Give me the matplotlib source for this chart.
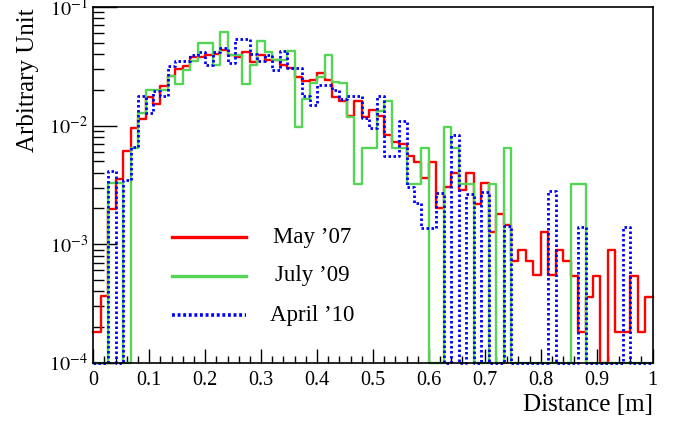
import numpy as np
import matplotlib
matplotlib.use("Agg")
import matplotlib.pyplot as plt
from matplotlib.ticker import MultipleLocator, LogLocator, NullFormatter

plt.rcParams['font.family'] = ['Liberation Serif', 'DejaVu Serif']
plt.rcParams['mathtext.fontset'] = 'stix'

# 75 bins between 0 and 1 m
edges = np.linspace(0.0, 1.0, 76)

may07 = [1.8e-4, 3.66e-4, 1.99e-3, 3.57e-3, 6.05e-3, 9.55e-3, 1.14e-2, 1.75e-2, 1.53e-2, 2.17e-2,
         2.64e-2, 3.0e-2, 3.17e-2, 3.8e-2, 3.8e-2, 3.9e-2, 4.0e-2, 4.3e-2, 3.97e-2, 3.8e-2,
         4.18e-2, 3.47e-2, 3.97e-2, 3.6e-2, 3.55e-2, 3.25e-2, 3.06e-2, 2.57e-2, 2.36e-2, 2.44e-2,
         2.78e-2, 2.4e-2, 1.75e-2, 1.6e-2, 1.21e-2, 1.6e-2, 1.18e-2, 1.36e-2, 1.2e-2, 8.4e-3,
         7.2e-3, 7.0e-3, 5.5e-3, 4.9e-3, 3.6e-3, 4.9e-3, 2.0e-3, 3.06e-3, 3.98e-3, 2.88e-3,
         3.98e-3, 2.18e-3, 3.27e-3, 1.26e-3, 1.8e-3, 1.44e-3, 7.2e-4, 8.95e-4, 7.2e-4, 5.5e-4,
         1.26e-3, 5.5e-4, 8.95e-4, 7.2e-4, 5.43e-4, 1.81e-4, 3.57e-4, 5.43e-4, 0, 8.95e-4,
         1.81e-4, 1.81e-4, 5.43e-4, 1.81e-4, 3.57e-4]

july09 = [0, 0, 3.27e-3, 3.27e-3, 0, 6.5e-3, 1.28e-2, 1.98e-2, 1.98e-2, 1.98e-2,
          2.64e-2, 2.26e-2, 2.96e-2, 3.53e-2, 5.0e-2, 5.0e-2, 3.25e-2, 6.2e-2, 3.9e-2, 3.9e-2,
          2.26e-2, 3.25e-2, 5.14e-2, 4.18e-2, 3.55e-2, 3.55e-2, 4.24e-2, 9.7e-3, 1.66e-2, 2.29e-2,
          2.57e-2, 3.9e-2, 2.32e-2, 2.29e-2, 1.18e-2, 3.23e-3, 6.47e-3, 6.47e-3, 1.32e-2, 1.62e-2,
          6.47e-3, 6.47e-3, 3.23e-3, 3.23e-3, 6.5e-3, 0, 0, 9.7e-3, 6.47e-3, 3.23e-3,
          3.23e-3, 0, 0, 3.23e-3, 0, 6.47e-3, 0, 0, 0, 0,
          0, 0, 0, 0, 3.23e-3, 3.23e-3, 0, 0, 0, 0,
          0, 0, 0, 0, 0]

april10 = [0, 0, 4.1e-3, 0, 3.5e-3, 6.6e-3, 1.77e-2, 1.28e-2, 1.95e-2, 1.77e-2,
           3.17e-2, 3.48e-2, 3.53e-2, 3.97e-2, 4.15e-2, 3.27e-2, 4.15e-2, 4.5e-2, 3.38e-2, 5.38e-2,
           5.38e-2, 4.0e-2, 3.5e-2, 3.97e-2, 2.92e-2, 4.28e-2, 3.06e-2, 3.06e-2, 1.77e-2, 1.5e-2,
           2.22e-2, 2.22e-2, 2.01e-2, 1.66e-2, 1.77e-2, 1.77e-2, 1.16e-2, 9.55e-3, 1.77e-2, 5.5e-3,
           5.5e-3, 1.09e-2, 3.06e-3, 2.23e-3, 1.36e-3, 1.36e-3, 2.7e-3, 0, 8.4e-3, 0,
           2.65e-3, 0, 2.75e-3, 0, 0, 1.42e-3, 0, 0, 0, 0,
           0, 2.78e-3, 0, 0, 0, 1.39e-3, 0, 0, 0, 0,
           0, 1.39e-3, 0, 0, 0]

labels = ["May \u201907", "July \u201909", "April \u201910"]
colors = ["#ff0000", "#55d455", "#0000ff"]

ymin, ymax = 1e-4, 1e-1

fig = plt.figure(figsize=(6.83, 4.22), dpi=100)
ax = fig.add_axes([0.1366, 0.1405, 0.819, 0.8429])

styles = [dict(lw=1.7), dict(lw=1.7), dict(lw=2.0, ls=(0, (0.9, 0.9)), dash_capstyle='butt')]
for vals, col, st in zip([may07, july09, april10], colors, styles):
    # empty bins sit on the lower edge of the frame, as ROOT draws them
    v = np.clip(np.array(vals, dtype=float), ymin, None)
    ax.step(edges, np.append(v, v[-1]), where='post', color=col, clip_on=False, **st)

ax.set_yscale('log')
ax.set_xlim(0, 1)
ax.set_ylim(ymin, ymax)

ax.xaxis.set_minor_locator(MultipleLocator(0.02))
ax.yaxis.set_minor_locator(LogLocator(base=10, subs=np.arange(2, 10)))
ax.yaxis.set_minor_formatter(NullFormatter())
ax.set_xticks(np.arange(0, 1.01, 0.1))
ax.set_xticklabels(["0", "0.1", "0.2", "0.3", "0.4", "0.5", "0.6", "0.7", "0.8", "0.9", "1"])
ax.set_yticks([1e-4, 1e-3, 1e-2, 1e-1])
ax.set_yticklabels([r"$10^{-4}$", r"$10^{-3}$", r"$10^{-2}$", r"$10^{-1}$"])

ax.tick_params(which='both', direction='in', top=False, right=False, labelsize=14.5, width=1)
ax.tick_params(axis='x', which='major', length=10, pad=6)
ax.tick_params(axis='x', which='minor', length=5)
ax.tick_params(axis='y', which='major', length=17, pad=4)
ax.tick_params(axis='y', which='minor', length=8)
for s in ax.spines.values():
    s.set_linewidth(1.2)

fig.text(0.9556, 1 - 405 / 422, "Distance [m]", ha='right', va='center', fontsize=18)
fig.text(28 / 683, 1 - 8 / 422, "Arbitrary Unit", ha='center', va='top', rotation=90, fontsize=18)

# legend drawn by hand, ROOT style, no frame
leg_styles = [dict(lw=2.4), dict(lw=2.4), dict(lw=2.6, ls=(0, (0.8, 0.75)), dash_capstyle='butt')]
leg_y = [237, 276, 315]
for lab, col, st, yy in zip(labels, colors, leg_styles, leg_y):
    yf = 1 - yy / 422
    fig.add_artist(plt.Line2D([172 / 683, 246 / 683], [yf, yf], color=col, transform=fig.transFigure, **st))
    fig.text(312 / 683, yf, lab, ha='center', va='center', fontsize=16.5)

fig.savefig("out.png", dpi=100)
